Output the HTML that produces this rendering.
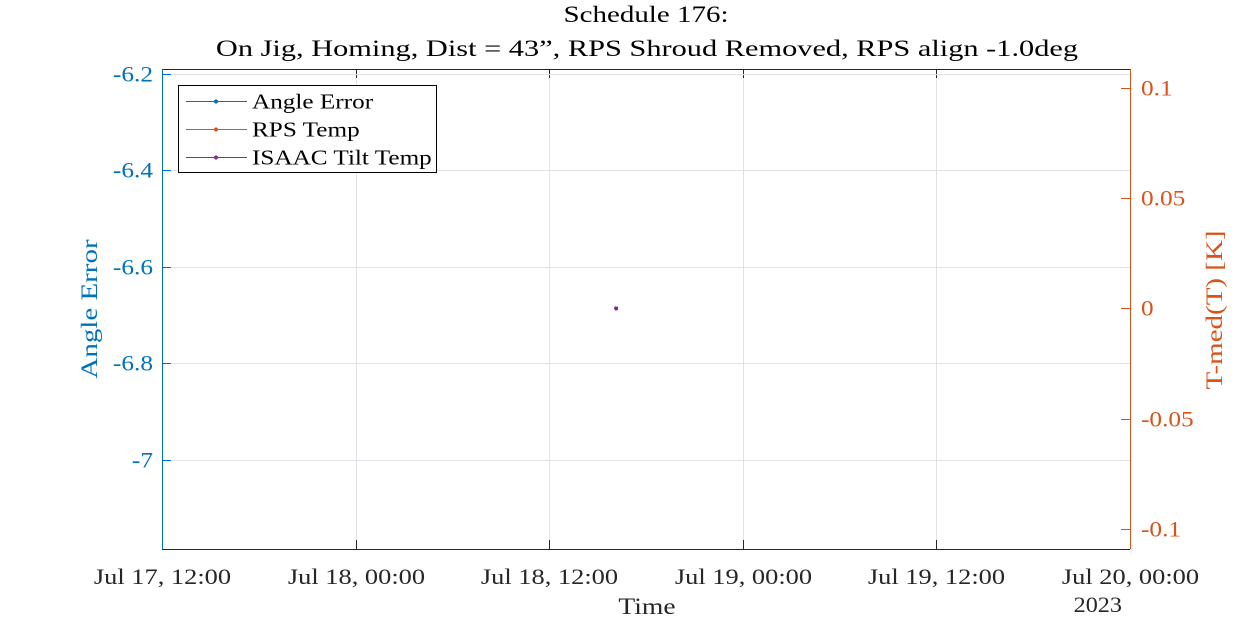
<!DOCTYPE html>
<html><head><meta charset="utf-8"><style>
body{margin:0;background:#fff;}
svg text{font-family:"Liberation Serif",serif;}
</style></head><body>
<svg id="chart" width="1250" height="625" xmlns="http://www.w3.org/2000/svg" shape-rendering="crispEdges">
<rect width="1250" height="625" fill="#fff"/>
<g id="g"></g>
</svg>
<script>
const xTickHours = [0, 12, 24, 36, 48, 60];
const xTickLabels = ["Jul 17, 12:00","Jul 18, 00:00","Jul 18, 12:00","Jul 19, 00:00","Jul 19, 12:00","Jul 20, 00:00"];
const leftTicks = [-6.2, -6.4, -6.6, -6.8, -7];
const leftTickLabels = ["-6.2","-6.4","-6.6","-6.8","-7"];
const rightTicks = [0.1, 0.05, 0, -0.05, -0.1];
const rightTickLabels = ["0.1","0.05","0","-0.05","-0.1"];
const angleHours = [28.15];
const angleValues = [-6.686];
const rpsHours = [28.15];
const rpsValues = [0];
const tiltHours = [28.15];
const tiltValues = [0];

const L=162,R=1130,T=69,B=549;
const xS=h=>L+(h-0)/60*(R-L);
const yL=v=>T+(-6.19-v)/(-6.19+7.185)*(B-T);
const yR=v=>T+(0.1086-v)/(0.2177)*(B-T);
const NS="http://www.w3.org/2000/svg";
const g=document.getElementById('g');
function el(tag,attrs,txt,w){const e=document.createElementNS(NS,tag);for(const k in attrs)e.setAttribute(k,attrs[k]);if(txt!==undefined)e.textContent=txt;g.appendChild(e);
 if(tag==='text'){e.setAttribute('textLength',(e.getComputedTextLength()*(w||1.2)).toFixed(1));e.setAttribute('lengthAdjust','spacingAndGlyphs');}
 return e;}
const BLUE="#0072BD",ORANGE="#D95319",PURPLE="#7E2F8E",DARK="#262626";
xTickHours.forEach((h,i)=>{const x=Math.round(xS(h))+0.5;
 const gl=el('line',{x1:x,x2:x,y1:T,y2:B,stroke:"#dfe3e8","stroke-width":1});
 
 const tk=el('line',{x1:x,x2:x,y1:B,y2:B-9,stroke:DARK});
 const tk2=el('line',{x1:x,x2:x,y1:T,y2:T+9,stroke:DARK});
 const t=el('text',{x:x,y:584,'text-anchor':'middle','font-size':22,fill:DARK},xTickLabels[i],1.2);
 
});
leftTicks.forEach((v,i)=>{const y=Math.round(yL(v))+0.5;
 const gl=el('line',{x1:L,x2:R,y1:y,y2:y,stroke:"#dfe3e8"});
 const tk=el('line',{x1:L,x2:L+9,y1:y,y2:y,stroke:BLUE});
 const t=el('text',{x:153,y:y+7,'text-anchor':'end','font-size':22,fill:BLUE},leftTickLabels[i],1.15);
 
});
rightTicks.forEach((v,i)=>{const y=Math.round(yR(v))+0.5;
 const tk=el('line',{x1:R,x2:R-9,y1:y,y2:y,stroke:ORANGE});
 const t=el('text',{x:1141,y:y+7,'font-size':22,fill:ORANGE},rightTickLabels[i],1.15);
 
});
let a=el('line',{x1:L,x2:R,y1:B+0.5,y2:B+0.5,stroke:DARK});
a=el('line',{x1:L,x2:R,y1:T+0.5,y2:T+0.5,stroke:DARK});
a=el('line',{x1:L+0.5,x2:L+0.5,y1:T,y2:B,stroke:BLUE});
a=el('line',{x1:R+0.5,x2:R+0.5,y1:T,y2:B,stroke:ORANGE});
angleHours.forEach((h,i)=>{const c=el('circle',{cx:xS(h),cy:yL(angleValues[i]),r:2,fill:BLUE});});
rpsHours.forEach((h,i)=>{const c=el('circle',{cx:xS(h),cy:yR(rpsValues[i]),r:2,fill:ORANGE});});
tiltHours.forEach((h,i)=>{const c=el('circle',{cx:xS(h),cy:yR(tiltValues[i]),r:2,fill:PURPLE});});
let t=el('text',{x:646,y:22,'text-anchor':'middle','font-size':23,fill:"#000"},"Schedule 176:",1.26);
t=el('text',{x:647,y:56,'text-anchor':'middle','font-size':23,fill:"#000"},"On Jig, Homing, Dist = 43\u201d, RPS Shroud Removed, RPS align -1.0deg",1.32);
t=el('text',{x:647,y:614,'text-anchor':'middle','font-size':23,fill:DARK},"Time",1.2);
t=el('text',{x:1122,y:612,'text-anchor':'end','font-size':22,fill:DARK},"2023",1.1);
t=el('text',{x:0,y:0,'text-anchor':'middle','font-size':23,fill:BLUE,transform:"translate(97,309) rotate(-90)"},"Angle Error",1.26);
t=el('text',{x:0,y:0,'text-anchor':'middle','font-size':23,fill:ORANGE,transform:"translate(1222,310) rotate(-90)"},"T-med(T) [K]",1.26);
let lg=el('rect',{x:178.5,y:85.5,width:258,height:87,fill:"#fff",stroke:"#000"});
const legNames=["Angle Error","RPS Temp","ISAAC Tilt Temp"],legCols=[BLUE,ORANGE,PURPLE];
legNames.forEach((n,i)=>{const y=101.5+i*28;
 const l=el('line',{x1:186,x2:247,y1:y,y2:y,stroke:legCols[i]});
 const c=el('circle',{cx:216,cy:y,r:2,fill:legCols[i]});
 const tx=el('text',{x:252,y:y+7,'font-size':21,fill:"#000"},n,1.2);
});
</script>
</body></html>
